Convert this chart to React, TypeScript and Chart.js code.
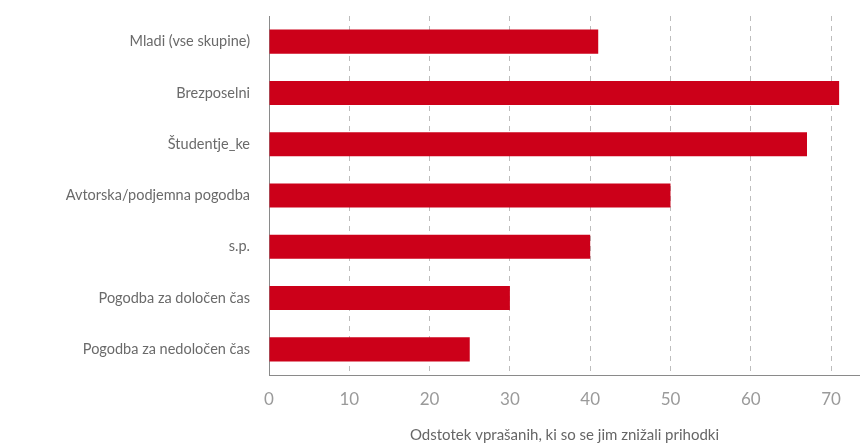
import React, { useEffect, useRef } from "react";
import { Chart, registerables } from "chart.js";

Chart.register(...registerables);

const categories = [
  "Mladi (vse skupine)",
  "Brezposelni",
  "Študentje_ke",
  "Avtorska/podjemna pogodba",
  "s.p.",
  "Pogodba za določen čas",
  "Pogodba za nedoločen čas",
];
const values = [41, 71, 67, 50, 40, 30, 25];
const axisTitle = "Odstotek vprašanih, ki so se jim znižali prihodki";
const xMax = 73.6;

export default function App() {
  const ref = useRef<HTMLCanvasElement | null>(null);

  useEffect(() => {
    document.body.style.margin = "0";
    const canvas = ref.current;
    if (!canvas) return;
    const chart = new Chart(canvas, {
      type: "bar",
      data: {
        labels: categories,
        datasets: [
          {
            data: values,
            backgroundColor: "#cc0019",
            barPercentage: 0.47,
            categoryPercentage: 1,
          },
        ],
      },
      options: {
        indexAxis: "y",
        animation: false,
        responsive: false,
        maintainAspectRatio: false,
        layout: { padding: { top: 16, right: 0, left: 0, bottom: 0 } },
        plugins: { legend: { display: false }, tooltip: { enabled: false } },
        scales: {
          x: {
            min: 0,
            max: xMax,
            ticks: {
              stepSize: 10,
              includeBounds: false,
              color: "#9a9a9a",
              font: { family: "Lato", size: 17 },
              padding: 14,
            },
            grid: {
              drawTicks: false,
              color: (ctx: any) => (ctx.tick && ctx.tick.value === 0 ? "rgba(0,0,0,0)" : "#bdbdbd"),
              lineWidth: 1,
            },
            border: { display: true, color: "#8a8a8a", width: 1, dash: [5, 5] },
            title: {
              display: true,
              text: axisTitle,
              color: "#666",
              font: { family: "Lato", size: 15 },
              padding: { top: 8, bottom: 0 },
            },
            afterFit: (scale: any) => {
              scale.height = 69;
              scale.paddingRight = 0;
            },
          },
          y: {
            ticks: {
              color: "#6a6a6a",
              font: { family: "Lato", size: 14.5 },
              padding: 19,
            },
            grid: { display: false, drawTicks: false },
            border: { display: true, color: "#8a8a8a", width: 1 },
            afterFit: (scale: any) => {
              scale.width = 269;
              scale.paddingTop = 0;
              scale.paddingBottom = 0;
            },
          },
        },
      },
    });
    return () => chart.destroy();
  }, []);

  return (
    <div style={{ width: 860, height: 444, background: "#fff" }}>
      <canvas ref={ref} width={860} height={444} style={{ display: "block" }} />
    </div>
  );
}
